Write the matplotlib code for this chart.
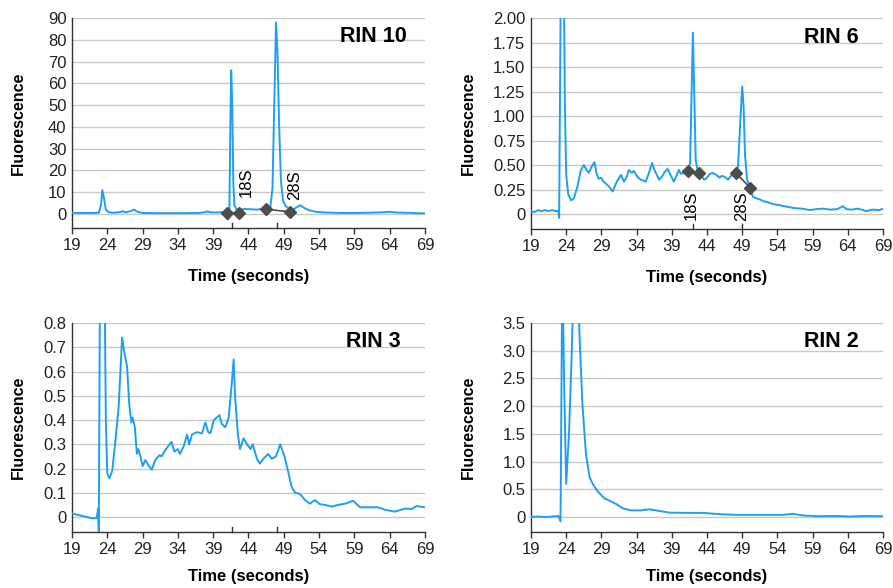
import numpy as np
import matplotlib
matplotlib.use('Agg')
import matplotlib.pyplot as plt

plt.rcParams['font.family'] = ['Liberation Sans', 'DejaVu Sans']

# RIN 10
t_rin10 = [19, 20, 21, 22, 22.8, 23.1, 23.3, 23.5, 23.8, 24.2, 25, 25.8, 26.2, 26.6, 27.2, 27.8, 28.3, 29,
           31, 33, 35, 37, 37.8, 38.2, 38.6, 39.5, 40.4, 41.0, 41.15, 41.3, 41.45, 41.55, 41.7, 41.85, 42.0,
           42.3, 42.8, 43.5, 44.3, 45.2, 46.0, 46.6, 47.1, 47.4, 47.65, 47.9, 48.1, 48.35, 48.6, 48.9, 49.3,
           49.8, 50.3, 50.8, 51.3, 51.8, 52.5, 53.5, 55, 57, 59, 61, 63, 64, 65, 67, 69]
f_rin10 = [0.5, 0.5, 0.5, 0.5, 0.6, 4, 11, 8, 2, 0.8, 0.6, 0.9, 1.3, 0.8, 1.2, 2.0, 1.0, 0.5,
           0.4, 0.4, 0.4, 0.5, 0.8, 1.2, 0.8, 0.7, 0.9, 1.2, -2.5, 3, 45, 66, 50, 15, 4,
           2.2, 2.0, 2.3, 2.2, 2.0, 2.4, 2.6, 3.0, 12, 50, 88, 75, 40, 15, 6, 3.5,
           2.5, 2.0, 3.0, 4.0, 3.0, 1.8, 1.0, 0.7, 0.5, 0.5, 0.6, 0.8, 1.0, 0.7, 0.5, 0.3]
mk_t_rin10 = [40.9, 42.7, 46.5, 49.9]
mk_f_rin10 = [0.3, 0.6, 2.2, 1.0]

# RIN 6
t_rin6 = [19, 19.5, 20, 20.5, 21, 21.5, 22, 22.5, 22.9, 23.0, 23.15, 23.3, 23.6, 23.8, 24.0, 24.3, 24.7,
          25.1, 25.6, 26.1, 26.5, 26.9, 27.2, 27.6, 28.0, 28.3, 28.6, 29.0, 29.3, 29.8, 30.2, 30.6, 31.0,
          31.5, 31.8, 32.2, 32.6, 32.9, 33.3, 33.6, 34.1, 34.6, 35.0, 35.3, 35.8, 36.2, 36.6, 37.2, 37.6,
          38.0, 38.4, 38.8, 39.3, 39.6, 40.0, 40.3, 40.7, 41.0, 41.3, 41.6, 41.8, 42.0, 42.2, 42.4, 42.7,
          43.0, 43.3, 43.6, 44.0, 44.4, 44.8, 45.3, 45.8, 46.1, 46.5, 47.0, 47.4, 47.8, 48.1, 48.4, 48.7,
          49.0, 49.2, 49.4, 49.7, 50.1, 50.5, 51.0, 51.5, 52.0, 52.5, 53.0, 53.5, 54.0, 55.3, 56.5, 57.5,
          58.6, 59.5, 60.5, 61.5, 62.5, 63.3, 63.8, 64.5, 65.5, 66.6, 67.5, 68.5, 69]
f_rin6 = [0.03, 0.02, 0.04, 0.03, 0.04, 0.03, 0.04, 0.03, 0.03, -0.04, 1.5, 3.0, 3.0, 1.2, 0.4, 0.2, 0.14,
          0.16, 0.28, 0.45, 0.50, 0.45, 0.42, 0.48, 0.53, 0.42, 0.36, 0.37, 0.33, 0.30, 0.27, 0.23, 0.30,
          0.37, 0.40, 0.33, 0.38, 0.45, 0.42, 0.44, 0.38, 0.35, 0.34, 0.33, 0.43, 0.52, 0.44, 0.35, 0.38,
          0.43, 0.46, 0.40, 0.33, 0.38, 0.45, 0.41, 0.42, 0.44, 0.45, 0.52, 1.2, 1.85, 1.2, 0.55, 0.43,
          0.42, 0.38, 0.35, 0.37, 0.41, 0.42, 0.40, 0.37, 0.39, 0.38, 0.35, 0.39, 0.40, 0.42, 0.48, 0.9,
          1.3, 1.1, 0.6, 0.35, 0.27, 0.18, 0.16, 0.15, 0.13, 0.125, 0.11, 0.10, 0.095, 0.075, 0.06, 0.055,
          0.04, 0.05, 0.055, 0.045, 0.05, 0.08, 0.05, 0.045, 0.055, 0.03, 0.045, 0.04, 0.055]
mk_t_rin6 = [41.3, 42.9, 48.1, 50.1]
mk_f_rin6 = [0.44, 0.42, 0.42, 0.27]

# RIN 3
t_rin3 = [19, 19.6, 20.4, 21.1, 21.8, 22.5, 22.7, 22.8, 23.0, 23.3, 23.6, 23.8, 24.0, 24.3, 24.7, 25.1,
          25.6, 26.1, 26.3, 26.6, 26.8, 27.1, 27.4, 27.6, 27.9, 28.2, 28.4, 28.7, 29.0, 29.4, 29.9, 30.3,
          30.8, 31.4, 31.7, 32.2, 32.7, 33.1, 33.5, 34.0, 34.3, 34.8, 35.3, 35.6, 36.0, 36.7, 37.4, 37.9,
          38.3, 38.6, 39.1, 39.5, 39.9, 40.2, 40.7, 41.2, 41.6, 41.9, 42.1, 42.5, 42.8, 43.3, 43.8, 44.3,
          44.6, 45.2, 45.6, 46.1, 46.8, 47.3, 47.9, 48.5, 49.1, 49.6, 50.1, 50.6, 51.3, 52.0, 52.7, 53.4,
          54.1, 54.8, 55.8, 56.7, 57.7, 58.8, 59.8, 61.0, 62.4, 63.3, 64.7, 66.2, 67.1, 67.8, 69]
f_rin3 = [0.015, 0.01, 0.005, 0.0, -0.005, -0.005, 0.035, -0.07, 1.2, 1.5, 1.0, 0.4, 0.18, 0.16, 0.19, 0.30,
          0.45, 0.74, 0.70, 0.65, 0.62, 0.47, 0.39, 0.41, 0.37, 0.26, 0.28, 0.25, 0.21, 0.235, 0.21, 0.195,
          0.235, 0.255, 0.25, 0.275, 0.295, 0.31, 0.27, 0.28, 0.26, 0.29, 0.34, 0.30, 0.34, 0.35, 0.345, 0.39,
          0.35, 0.345, 0.40, 0.41, 0.42, 0.385, 0.37, 0.41, 0.54, 0.65, 0.50, 0.34, 0.28, 0.325, 0.30, 0.28,
          0.30, 0.24, 0.22, 0.24, 0.26, 0.24, 0.25, 0.30, 0.25, 0.19, 0.125, 0.10, 0.095, 0.07, 0.055, 0.07,
          0.053, 0.05, 0.043, 0.05, 0.055, 0.067, 0.04, 0.04, 0.04, 0.03, 0.022, 0.035, 0.033, 0.045, 0.04]

# RIN 2
t_rin2 = [19, 20, 21, 22, 22.9, 23.2, 23.45, 23.7, 24.0, 24.4, 24.8, 25.1, 25.6, 25.9, 26.3, 26.8, 27.3,
          27.8, 28.5, 29.4, 30.4, 31.1, 32.0, 33.2, 34.6, 35.8, 37.2, 38.7, 41, 43.4, 46, 48.2, 51, 54.8,
          56.2, 57.5, 59.6, 62, 64.3, 66.5, 69]
f_rin2 = [0.0, 0.01, 0.0, 0.01, 0.02, -0.08, 4.5, 2.5, 0.6, 1.5, 3.0, 4.5, 4.5, 3.25, 2.05, 1.15, 0.73,
          0.59, 0.46, 0.34, 0.28, 0.235, 0.16, 0.12, 0.12, 0.14, 0.11, 0.08, 0.075, 0.075, 0.05, 0.04, 0.04, 0.04,
          0.06, 0.03, 0.015, 0.02, 0.01, 0.02, 0.015]

x_ticks = [19, 24, 29, 34, 39, 44, 49, 54, 59, 64, 69]
blue = '#1E9FF2'
mk_color = '#4D4D4D'

fig = plt.figure(figsize=(8.93, 5.88), dpi=100)
pos = [[0.0806, 0.6122, 0.3953, 0.3571], [0.5946, 0.6105, 0.3942, 0.3588],
       [0.0806, 0.0952, 0.3953, 0.3554], [0.5946, 0.0952, 0.3942, 0.3554]]
panels = [
    (t_rin10, f_rin10, 'RIN 10', (-6.43, 90), [0, 10, 20, 30, 40, 50, 60, 70, 80, 90],
     ['0', '10', '20', '30', '40', '50', '60', '70', '80', '90'], [41.6, 48.1]),
    (t_rin6, f_rin6, 'RIN 6', (-0.153, 2.0), [0, 0.25, 0.5, 0.75, 1.0, 1.25, 1.5, 1.75, 2.0],
     ['0', '0.25', '0.50', '0.75', '1.00', '1.25', '1.50', '1.75', '2.00'], [42.0, 49.0]),
    (t_rin3, f_rin3, 'RIN 3', (-0.062, 0.8), [0, 0.1, 0.2, 0.3, 0.4, 0.5, 0.6, 0.7, 0.8],
     ['0', '0.1', '0.2', '0.3', '0.4', '0.5', '0.6', '0.7', '0.8'], [41.6, 48.1]),
    (t_rin2, f_rin2, 'RIN 2', (-0.27, 3.5), [0, 0.5, 1.0, 1.5, 2.0, 2.5, 3.0, 3.5],
     ['0', '0.5', '1.0', '1.5', '2.0', '2.5', '3.0', '3.5'], []),
]
label_x = [-0.13, -0.156, -0.13, -0.156]
label_pad = [12, 12, 9, 9]

axes = []
for i, (p, (t, f, name, ylim, yt, ytl, peaks)) in enumerate(zip(pos, panels)):
    ax = fig.add_axes(p)
    axes.append(ax)
    ax.plot(t, f, color=blue, lw=1.4, zorder=3)
    ax.set_xlim(19, 69)
    ax.set_ylim(*ylim)
    ax.set_xticks(x_ticks)
    ax.set_yticks(yt)
    ax.set_yticklabels(ytl)
    ax.grid(axis='y', color='#C8C8C8', lw=1)
    ax.set_axisbelow(True)
    for s in ['top', 'right']:
        ax.spines[s].set_visible(False)
    for s in ['left', 'bottom']:
        ax.spines[s].set_color('#333333')
        ax.spines[s].set_linewidth(1)
    ax.tick_params(axis='y', length=0, labelsize=12, pad=4, colors='#222222')
    ax.tick_params(axis='x', length=4, width=1, color='#333333', labelsize=12, pad=3, labelcolor='#222222')
    ax.set_xlabel('Time (seconds)', fontsize=12, fontweight='bold', labelpad=label_pad[i])
    ax.set_ylabel('Fluorescence', fontsize=11.5, fontweight='bold')
    ax.yaxis.set_label_coords(label_x[i], 0.5)
    ax.text(0.854, 0.91, name, transform=ax.transAxes, ha='center', va='center',
            fontsize=15.5, fontweight='bold')
    # short marks at the peak positions
    for pk in peaks:
        ax.plot([pk, pk], [0, 0.025], transform=ax.get_xaxis_transform(), color='#333333', lw=1,
                clip_on=False)

# 18S / 28S markers
ax = axes[0]
ax.plot(mk_t_rin10[:2], mk_f_rin10[:2], color=mk_color, lw=1.2, marker='D', ms=6, zorder=4)
ax.plot(mk_t_rin10[2:], mk_f_rin10[2:], color=mk_color, lw=1.2, marker='D', ms=6, zorder=4)
ax.text(43.7, 7.9, '18S', rotation=90, ha='center', va='bottom', fontsize=12)
ax.text(50.6, 6.4, '28S', rotation=90, ha='center', va='bottom', fontsize=12)

ax = axes[1]
ax.plot(mk_t_rin6[:2], mk_f_rin6[:2], color=mk_color, lw=1.2, marker='D', ms=6, zorder=4)
ax.plot(mk_t_rin6[2:], mk_f_rin6[2:], color=mk_color, lw=1.2, marker='D', ms=6, zorder=4)
ax.text(41.8, 0.245, '18S', rotation=90, ha='center', va='top', fontsize=12)
ax.text(48.9, 0.23, '28S', rotation=90, ha='center', va='top', fontsize=12)

fig.savefig('out.png', dpi=100)
